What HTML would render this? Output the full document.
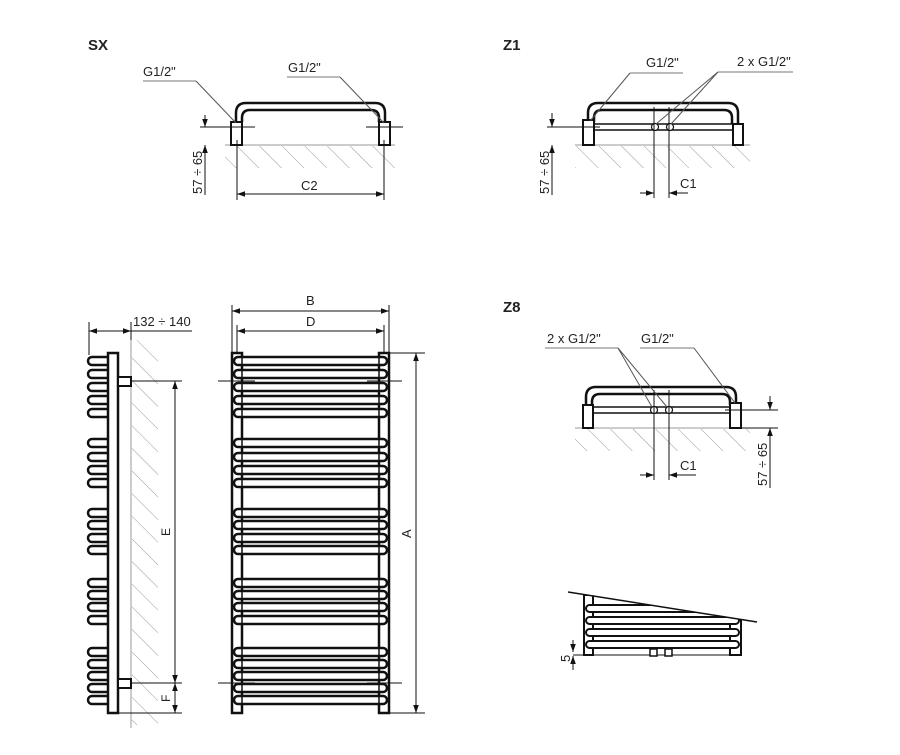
<!DOCTYPE html>
<html><head><meta charset="utf-8"><style>
html,body{margin:0;padding:0;background:#fff}
svg{display:block}
text{font-family:"Liberation Sans",sans-serif;fill:#222}
</style></head><body>
<svg width="900" height="755" viewBox="0 0 900 755" xmlns="http://www.w3.org/2000/svg">
<defs>
<pattern id="h" width="16" height="16" patternUnits="userSpaceOnUse" patternTransform="rotate(-45)">
<line x1="0" y1="0" x2="0" y2="16" stroke="#9a9a9a" stroke-width="1"/>
</pattern>
<marker id="a" viewBox="0 0 10 10" refX="10" refY="5" markerWidth="8" markerHeight="8" orient="auto-start-reverse" markerUnits="userSpaceOnUse">
<path d="M0,1.5 L10,5 L0,8.5 z" fill="#111"/>
</marker>
</defs>

<g stroke="#111" fill="none">
<!-- ========== SX ========== -->
<text x="88" y="50" font-size="15" font-weight="bold" stroke="none">SX</text>
<rect x="225" y="146" width="170" height="22" fill="url(#h)" stroke="none"/>
<line x1="225" y1="145" x2="395" y2="145" stroke="#999"/>
<path d="M236,122 V113 Q236,103 246,103 H375 Q385,103 385,113 V122" stroke-width="2.5"/>
<path d="M242,122 V118 Q242,110 250,110 H371 Q379,110 379,118 V122" stroke-width="2.5"/>
<rect x="231" y="122" width="11" height="23" stroke-width="2" fill="#fff"/>
<rect x="379" y="122" width="11" height="23" stroke-width="2" fill="#fff"/>
<line x1="200" y1="127" x2="255" y2="127" stroke-width="1"/>
<line x1="366" y1="127" x2="403" y2="127" stroke-width="1"/>
<line x1="205" y1="115" x2="205" y2="127" marker-end="url(#a)"/>
<line x1="205" y1="195" x2="205" y2="145" marker-end="url(#a)"/>
<line x1="237" y1="140" x2="237" y2="200"/>
<line x1="384" y1="140" x2="384" y2="200"/>
<line x1="237" y1="194" x2="384" y2="194" marker-start="url(#a)" marker-end="url(#a)"/>
<text x="301" y="190" font-size="13" stroke="none">C2</text>
<text transform="translate(202,194) rotate(-90)" font-size="13" fill="#7a2a3a" stroke="none">57 ÷ 65</text>
<line x1="143" y1="81" x2="196" y2="81" stroke="#777"/>
<line x1="196" y1="81" x2="236" y2="123" stroke="#555"/>
<text x="143" y="76" font-size="13" stroke="none">G1/2"</text>
<line x1="287" y1="77" x2="340" y2="77" stroke="#777"/>
<line x1="340" y1="77" x2="384" y2="123" stroke="#555"/>
<text x="288" y="72" font-size="13" stroke="none">G1/2"</text>

<!-- ========== Z1 ========== -->
<text x="503" y="50" font-size="15" font-weight="bold" stroke="none">Z1</text>
<rect x="575" y="146" width="175" height="22" fill="url(#h)" stroke="none"/>
<line x1="575" y1="145" x2="750" y2="145" stroke="#999"/>
<path d="M588,122 V113 Q588,103 598,103 H728 Q738,103 738,113 V124" stroke-width="2.5"/>
<path d="M594,122 V118 Q594,110 602,110 H724 Q732,110 732,118 V124" stroke-width="2.5"/>
<rect x="594" y="124" width="139" height="6" stroke-width="1.5" fill="#fff"/>
<rect x="583" y="120" width="11" height="25" stroke-width="2" fill="#fff"/>
<rect x="733" y="124" width="10" height="21" stroke-width="2" fill="#fff"/>
<circle cx="655" cy="127" r="3.5" stroke-width="1.2" fill="#fff"/>
<circle cx="670" cy="127" r="3.5" stroke-width="1.2" fill="#fff"/>
<line x1="547" y1="127" x2="600" y2="127"/>
<line x1="552" y1="113" x2="552" y2="127" marker-end="url(#a)"/>
<line x1="552" y1="195" x2="552" y2="145" marker-end="url(#a)"/>
<text transform="translate(549,194) rotate(-90)" font-size="13" fill="#2a3a7a" stroke="none">57 ÷ 65</text>
<line x1="654" y1="107" x2="654" y2="198"/>
<line x1="669" y1="107" x2="669" y2="198"/>
<line x1="640" y1="193" x2="654" y2="193" marker-end="url(#a)"/>
<line x1="688" y1="193" x2="669" y2="193" marker-end="url(#a)"/>
<text x="680" y="188" font-size="13" stroke="none">C1</text>
<line x1="630" y1="73" x2="683" y2="73" stroke="#777"/>
<line x1="630" y1="73" x2="590" y2="121" stroke="#555"/>
<text x="646" y="67" font-size="13" stroke="none">G1/2"</text>
<line x1="718" y1="72" x2="793" y2="72" stroke="#777"/>
<line x1="718" y1="72" x2="656" y2="124" stroke="#555"/>
<line x1="718" y1="72" x2="671" y2="124" stroke="#555"/>
<text x="737" y="66" font-size="13" stroke="none">2 x G1/2"</text>

<!-- ========== Z8 ========== -->
<text x="503" y="312" font-size="15" font-weight="bold" stroke="none">Z8</text>
<rect x="575" y="429" width="175" height="22" fill="url(#h)" stroke="none"/>
<line x1="575" y1="428" x2="750" y2="428" stroke="#999"/>
<path d="M586,405 V397 Q586,387 596,387 H726 Q736,387 736,397 V405" stroke-width="2.5"/>
<path d="M592,405 V402 Q592,394 600,394 H722 Q730,394 730,402 V405" stroke-width="2.5"/>
<rect x="593" y="407" width="137" height="6" stroke-width="1.5" fill="#fff"/>
<rect x="583" y="405" width="10" height="23" stroke-width="2" fill="#fff"/>
<rect x="730" y="403" width="11" height="25" stroke-width="2" fill="#fff"/>
<circle cx="654" cy="410" r="3.5" stroke-width="1.2" fill="#fff"/>
<circle cx="669" cy="410" r="3.5" stroke-width="1.2" fill="#fff"/>
<line x1="725" y1="410" x2="778" y2="410"/>
<line x1="736" y1="428" x2="778" y2="428"/>
<line x1="770" y1="396" x2="770" y2="410" marker-end="url(#a)"/>
<line x1="770" y1="488" x2="770" y2="428" marker-end="url(#a)"/>
<text transform="translate(767,486) rotate(-90)" font-size="13" stroke="none">57 ÷ 65</text>
<line x1="654" y1="390" x2="654" y2="480"/>
<line x1="669" y1="390" x2="669" y2="480"/>
<line x1="640" y1="475" x2="654" y2="475" marker-end="url(#a)"/>
<line x1="696" y1="475" x2="669" y2="475" marker-end="url(#a)"/>
<text x="680" y="470" font-size="13" stroke="none">C1</text>
<line x1="545" y1="348" x2="618" y2="348" stroke="#777"/>
<line x1="618" y1="348" x2="652" y2="407" stroke="#555"/>
<line x1="618" y1="348" x2="667" y2="407" stroke="#555"/>
<text x="547" y="343" font-size="13" stroke="none">2 x G1/2"</text>
<line x1="640" y1="348" x2="694" y2="348" stroke="#777"/>
<line x1="694" y1="348" x2="735" y2="403" stroke="#555"/>
<text x="641" y="343" font-size="13" stroke="none">G1/2"</text>

<!-- ========== Bottom sketch ========== -->
<rect x="584" y="595" width="9" height="60" stroke-width="2" fill="#fff"/>
<rect x="730" y="620" width="11" height="35" stroke-width="2" fill="#fff"/>
<rect x="586" y="605" width="153" height="7" rx="3.5" stroke-width="2" fill="#fff"/>
<rect x="586" y="617" width="153" height="7" rx="3.5" stroke-width="2" fill="#fff"/>
<rect x="586" y="629" width="153" height="7" rx="3.5" stroke-width="2" fill="#fff"/>
<rect x="586" y="641" width="153" height="7" rx="3.5" stroke-width="2" fill="#fff"/>
<polygon points="584,594 757,622 757,605 584,580" fill="#fff" stroke="none"/>
<line x1="568" y1="592" x2="757" y2="622" stroke-width="1.5"/>
<line x1="593" y1="655" x2="730" y2="655"/>
<rect x="650" y="649" width="7" height="7" stroke-width="1.5" fill="#fff"/>
<rect x="665" y="649" width="7" height="7" stroke-width="1.5" fill="#fff"/>
<line x1="573" y1="655" x2="593" y2="655"/>
<line x1="573" y1="640" x2="573" y2="652" marker-end="url(#a)"/>
<line x1="573" y1="670" x2="573" y2="656" marker-end="url(#a)"/>
<text transform="translate(570,662) rotate(-90)" font-size="13" stroke="none">5</text>

<!-- ========== Side view ========== -->
<rect x="132" y="340" width="26" height="385" fill="url(#h)" stroke="none"/>
<line x1="131" y1="340" x2="131" y2="728" stroke="#999"/>
<g stroke-width="2.5" fill="#fff">
<path d="M108,357 H92 A4,4 0 0 0 92,365 H108"/>
<path d="M108,370 H92 A4,4 0 0 0 92,378 H108"/>
<path d="M108,383 H92 A4,4 0 0 0 92,391 H108"/>
<path d="M108,396 H92 A4,4 0 0 0 92,404 H108"/>
<path d="M108,409 H92 A4,4 0 0 0 92,417 H108"/>
<path d="M108,439 H92 A4,4 0 0 0 92,447 H108"/>
<path d="M108,453 H92 A4,4 0 0 0 92,461 H108"/>
<path d="M108,466 H92 A4,4 0 0 0 92,474 H108"/>
<path d="M108,479 H92 A4,4 0 0 0 92,487 H108"/>
<path d="M108,509 H92 A4,4 0 0 0 92,517 H108"/>
<path d="M108,521 H92 A4,4 0 0 0 92,529 H108"/>
<path d="M108,534 H92 A4,4 0 0 0 92,542 H108"/>
<path d="M108,546 H92 A4,4 0 0 0 92,554 H108"/>
<path d="M108,579 H92 A4,4 0 0 0 92,587 H108"/>
<path d="M108,591 H92 A4,4 0 0 0 92,599 H108"/>
<path d="M108,603 H92 A4,4 0 0 0 92,611 H108"/>
<path d="M108,616 H92 A4,4 0 0 0 92,624 H108"/>
<path d="M108,648 H92 A4,4 0 0 0 92,656 H108"/>
<path d="M108,660 H92 A4,4 0 0 0 92,668 H108"/>
<path d="M108,672 H92 A4,4 0 0 0 92,680 H108"/>
<path d="M108,684 H92 A4,4 0 0 0 92,692 H108"/>
<path d="M108,696 H92 A4,4 0 0 0 92,704 H108"/>
</g>
<rect x="108" y="353" width="10" height="360" stroke-width="2.5" fill="#fff"/>
<rect x="118" y="377" width="13" height="9" stroke-width="2" fill="#fff"/>
<rect x="118" y="679" width="13" height="9" stroke-width="2" fill="#fff"/>
<line x1="89" y1="322" x2="89" y2="355"/>
<line x1="131" y1="322" x2="131" y2="340"/>
<line x1="89" y1="331" x2="131" y2="331" marker-start="url(#a)" marker-end="url(#a)"/>
<line x1="131" y1="331" x2="192" y2="331"/>
<text x="133" y="326" font-size="13" stroke="none">132 ÷ 140</text>
<line x1="131" y1="381" x2="182" y2="381"/>
<line x1="131" y1="683" x2="182" y2="683"/>
<line x1="118" y1="713" x2="182" y2="713"/>
<line x1="175" y1="683" x2="175" y2="381" marker-end="url(#a)"/>
<line x1="175" y1="381" x2="175" y2="683" marker-end="url(#a)"/>
<line x1="175" y1="683" x2="175" y2="713" marker-start="url(#a)" marker-end="url(#a)"/>
<text transform="translate(170,536) rotate(-90)" font-size="12" stroke="none">E</text>
<text transform="translate(170,702) rotate(-90)" font-size="12" stroke="none">F</text>

<!-- ========== Front view ========== -->
<line x1="232" y1="305" x2="232" y2="353"/>
<line x1="389" y1="305" x2="389" y2="353"/>
<line x1="237" y1="325" x2="237" y2="360"/>
<line x1="384" y1="325" x2="384" y2="360"/>
<line x1="232" y1="311" x2="389" y2="311" marker-start="url(#a)" marker-end="url(#a)"/>
<line x1="237" y1="331" x2="384" y2="331" marker-start="url(#a)" marker-end="url(#a)"/>
<text x="306" y="305" font-size="13" stroke="none">B</text>
<text x="306" y="326" font-size="13" stroke="none">D</text>
<rect x="232" y="353" width="10" height="360" stroke-width="2.5" fill="#fff"/>
<rect x="379" y="353" width="10" height="360" stroke-width="2.5" fill="#fff"/>
<g stroke-width="2.5" fill="#fff">
<rect x="234" y="357" width="153" height="8" rx="4"/>
<rect x="234" y="370" width="153" height="8" rx="4"/>
<rect x="234" y="383" width="153" height="8" rx="4"/>
<rect x="234" y="396" width="153" height="8" rx="4"/>
<rect x="234" y="409" width="153" height="8" rx="4"/>
<rect x="234" y="439" width="153" height="8" rx="4"/>
<rect x="234" y="453" width="153" height="8" rx="4"/>
<rect x="234" y="466" width="153" height="8" rx="4"/>
<rect x="234" y="479" width="153" height="8" rx="4"/>
<rect x="234" y="509" width="153" height="8" rx="4"/>
<rect x="234" y="521" width="153" height="8" rx="4"/>
<rect x="234" y="534" width="153" height="8" rx="4"/>
<rect x="234" y="546" width="153" height="8" rx="4"/>
<rect x="234" y="579" width="153" height="8" rx="4"/>
<rect x="234" y="591" width="153" height="8" rx="4"/>
<rect x="234" y="603" width="153" height="8" rx="4"/>
<rect x="234" y="616" width="153" height="8" rx="4"/>
<rect x="234" y="648" width="153" height="8" rx="4"/>
<rect x="234" y="660" width="153" height="8" rx="4"/>
<rect x="234" y="672" width="153" height="8" rx="4"/>
<rect x="234" y="684" width="153" height="8" rx="4"/>
<rect x="234" y="696" width="153" height="8" rx="4"/>
</g>
<line x1="242" y1="357" x2="242" y2="705" stroke-width="1.5"/>
<line x1="379" y1="357" x2="379" y2="705" stroke-width="1.5"/>
<line x1="218" y1="381" x2="255" y2="381"/>
<line x1="367" y1="381" x2="402" y2="381"/>
<line x1="218" y1="683" x2="255" y2="683"/>
<line x1="367" y1="683" x2="402" y2="683"/>
<line x1="389" y1="353" x2="425" y2="353"/>
<line x1="389" y1="713" x2="425" y2="713"/>
<line x1="416" y1="353" x2="416" y2="713" marker-start="url(#a)" marker-end="url(#a)"/>
<text transform="translate(411,538) rotate(-90)" font-size="13" stroke="none">A</text>
</g>
</svg>
</body></html>
